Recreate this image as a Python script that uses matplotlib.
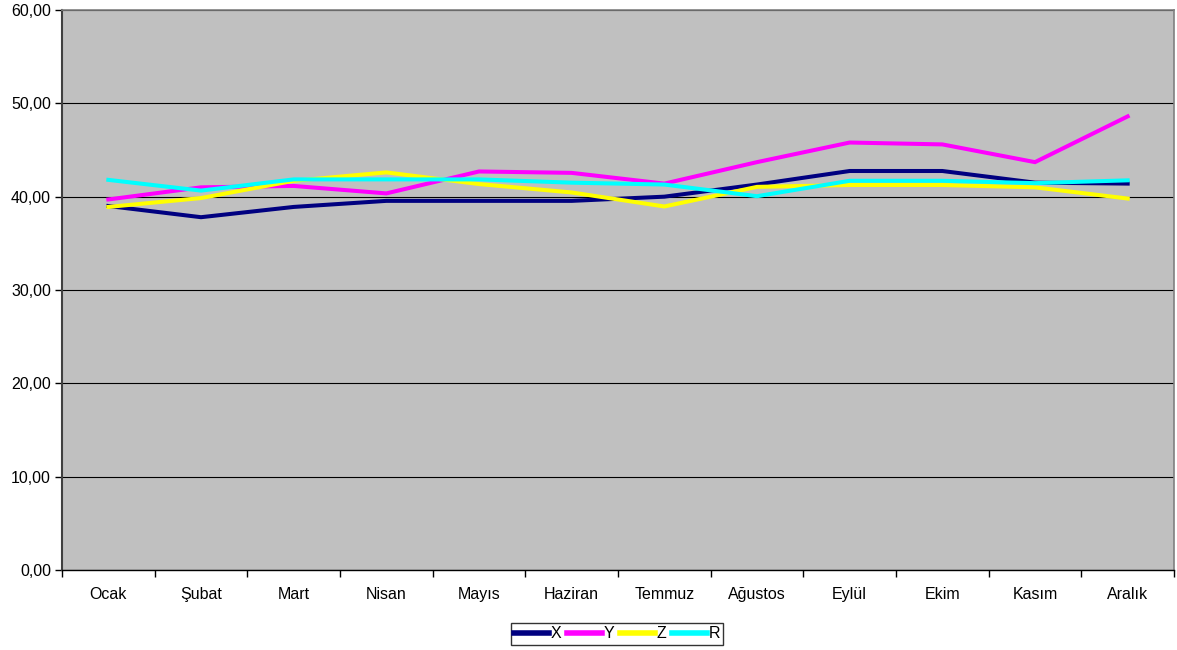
import matplotlib
matplotlib.use("Agg")
import matplotlib.pyplot as plt
from matplotlib.ticker import FuncFormatter, FixedLocator

plt.rcParams['font.family'] = ['Liberation Sans', 'DejaVu Sans']

months = ["Ocak", "Şubat", "Mart", "Nisan", "Mayıs", "Haziran", "Temmuz",
          "Ağustos", "Eylül", "Ekim", "Kasım", "Aralık"]
X = [39.0, 37.8, 38.9, 39.55, 39.55, 39.55, 40.0, 41.3, 42.75, 42.75, 41.5, 41.4]
Y = [39.7, 41.0, 41.15, 40.35, 42.7, 42.55, 41.4, 43.7, 45.8, 45.6, 43.7, 48.6]
Z = [38.9, 39.85, 41.7, 42.6, 41.35, 40.45, 38.95, 41.05, 41.25, 41.25, 41.0, 39.8]
R = [41.8, 40.65, 41.85, 41.85, 41.85, 41.5, 41.3, 40.05, 41.7, 41.7, 41.45, 41.75]

series = [("X", X, "#000080"), ("Y", Y, "#FF00FF"), ("Z", Z, "#FFFF00"), ("R", R, "#00FFFF")]

W, H = 1177, 650
FS = 11.5
fig = plt.figure(figsize=(W / 100, H / 100), dpi=100)
ax = fig.add_axes([62 / W, (H - 570) / H, (1174 - 62) / W, 560 / H])
ax.set_facecolor("#C0C0C0")

xs = list(range(len(months)))
for name, vals, col in series:
    ax.plot(xs, vals, color=col, lw=2.9, label=name, solid_joinstyle="miter", zorder=3)

ax.set_xlim(-0.5, len(months) - 0.5)
ax.set_ylim(0, 60)
ax.set_yticks(range(0, 61, 10))
ax.yaxis.set_major_formatter(FuncFormatter(lambda v, p: f"{v:.2f}".replace(".", ",")))
ax.grid(axis="y", color="black", lw=0.8, zorder=1)
ax.set_axisbelow(True)

ax.set_xticks(xs)
ax.set_xticklabels(months)
ax.xaxis.set_minor_locator(FixedLocator([i - 0.5 for i in range(len(months) + 1)]))
ax.tick_params(axis="x", which="major", length=0, pad=12, labelsize=FS)
ax.tick_params(axis="x", which="minor", length=5, width=1, direction="out", color="black")
ax.tick_params(axis="y", length=5, width=1, direction="out", labelsize=FS, color="black", pad=3)

ax.spines["left"].set_color("#404040")
ax.spines["left"].set_linewidth(1.5)
ax.spines["bottom"].set_color("black")
ax.spines["bottom"].set_linewidth(1)
ax.spines["top"].set_color("#808080")
ax.spines["right"].set_color("#808080")
ax.spines["top"].set_linewidth(1.2)
ax.spines["right"].set_linewidth(1.2)

leg = fig.legend(loc="center", bbox_to_anchor=(617 / W, (H - 634) / H), ncol=4,
                 frameon=True, fancybox=False, edgecolor="black", fontsize=FS,
                 handlelength=2.2, handletextpad=0.05, columnspacing=0.4,
                 borderpad=0.2, borderaxespad=0)
leg.get_frame().set_linewidth(1)
for line in leg.get_lines():
    line.set_linewidth(4)

fig.savefig("out.png", dpi=100, facecolor="white")
